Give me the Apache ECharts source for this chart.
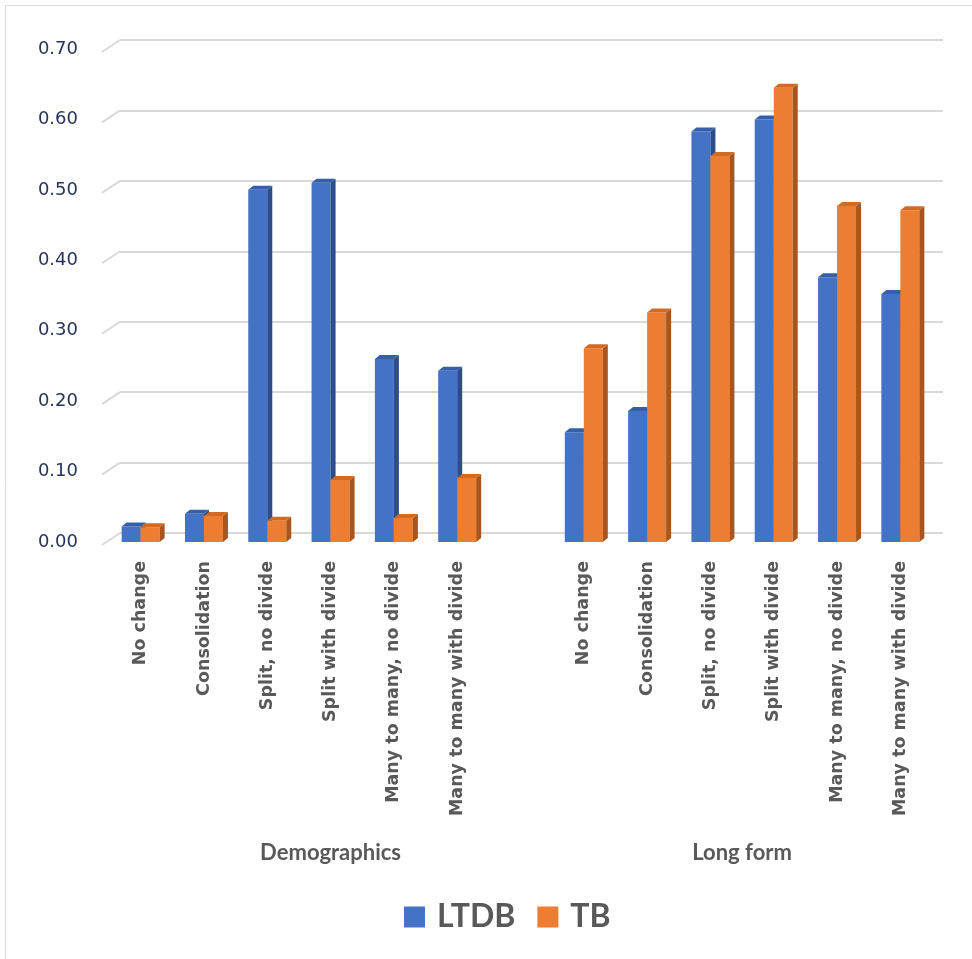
<!DOCTYPE html>
<html>
<head>
<meta charset="utf-8">
<script src="https://cdn.jsdelivr.net/npm/echarts@6/dist/echarts.min.js"></script>
<style>
  html, body { margin: 0; padding: 0; background: #fff; }
  #chart { width: 972px; height: 959px; }
</style>
</head>
<body>
<div id="chart"></div>
<script>
// categories per group (Excel multi-level axis, blank slot between groups)
const changeTypes = ['No change', 'Consolidation', 'Split, no divide', 'Split with divide',
  'Many to many, no divide', 'Many to many with divide']
const groups = ['Demographics', 'Long form']

const ltdbDemo = [0.022, 0.040, 0.500, 0.510, 0.260, 0.243]
const tbDemo = [0.021, 0.037, 0.030, 0.088, 0.034, 0.091]
const ltdbLong = [0.156, 0.186, 0.583, 0.600, 0.376, 0.352]
const tbLong = [0.275, 0.326, 0.548, 0.645, 0.477, 0.471]

const yTicks = [0, 0.1, 0.2, 0.3, 0.4, 0.5, 0.6, 0.7]

// 13 slots: 6 demographics, 1 blank, 6 long form
const categories = changeTypes.concat([''], changeTypes)
const toPoints = (a, b) => a.concat([null], b).map((v, i) => [i, v]).filter(p => p[1] !== null)

// fake 3D look like the Excel chart: grid 0 = front plane (bars, labels),
// grid 1 = back wall (gridlines), shifted right/up
const BW = 19 // bar width
const SX = 5 // depth of a bar
const SY = 4

function bar3d (side, colors) {
  return function (params, api) {
    const idx = api.value(0)
    const base = api.coord([idx, 0])
    const top = api.coord([idx, api.value(1)])
    const cx = base[0]
    const yb = base[1]
    const yt = top[1]
    const x0 = side < 0 ? cx - BW : cx
    const x1 = x0 + BW
    return {
      type: 'group',
      children: [
        { type: 'rect', shape: { x: x0, y: yt, width: BW, height: yb - yt }, style: { fill: colors[0] } },
        { type: 'polygon', shape: { points: [[x1, yt], [x1 + SX, yt - SY], [x1 + SX, yb - SY], [x1, yb]] }, style: { fill: colors[1] } },
        { type: 'polygon', shape: { points: [[x0, yt], [x1, yt], [x1 + SX, yt - SY], [x0 + SX, yt - SY]] }, style: { fill: colors[2] } }
      ]
    }
  }
}

const chart = echarts.init(document.getElementById('chart'))

const option = {
  animation: false,
  grid: [
    { left: 109, right: 40, top: 49, bottom: 417 },
    { left: 120, right: 29, top: 40, bottom: 426 }
  ],
  legend: {
    data: ['LTDB', 'TB'],
    left: 399,
    top: 896,
    icon: 'rect',
    itemWidth: 21,
    itemHeight: 21,
    itemGap: 22,
    textStyle: { fontFamily: 'Lato', fontWeight: 'bold', fontSize: 32, color: '#595959', padding: [0, 0, 0, 7] }
  },
  xAxis: [
    {
      type: 'category',
      gridIndex: 0,
      data: categories,
      axisLine: { show: false },
      axisTick: { show: false },
      axisLabel: {
        interval: 0,
        rotate: 90,
        margin: 19,
        fontFamily: 'DejaVu Sans',
        fontWeight: 'bold',
        fontSize: 17.5,
        color: '#595959'
      }
    },
    { type: 'category', gridIndex: 1, data: categories, show: false }
  ],
  yAxis: [
    {
      type: 'value',
      gridIndex: 0,
      min: 0,
      max: 0.7,
      interval: 0.1,
      axisLine: { show: false },
      axisTick: { show: false },
      splitLine: { show: false },
      axisLabel: {
        margin: 31,
        fontFamily: 'DejaVu Sans',
        fontSize: 18,
        color: '#27335a',
        formatter: v => v.toFixed(2)
      }
    },
    {
      type: 'value',
      gridIndex: 1,
      min: 0,
      max: 0.7,
      interval: 0.1,
      axisLine: { show: false },
      axisTick: { show: false },
      axisLabel: { show: false },
      splitLine: { lineStyle: { color: '#d9d9d9', width: 2 } }
    }
  ],
  series: [
    {
      name: 'LTDB',
      type: 'custom',
      xAxisIndex: 0,
      yAxisIndex: 0,
      itemStyle: { color: '#4472C4' },
      renderItem: bar3d(-1, ['#4472C4', '#2C4D88', '#3560A8']),
      encode: { x: 0, y: 1 },
      data: toPoints(ltdbDemo, ltdbLong)
    },
    {
      name: 'TB',
      type: 'custom',
      xAxisIndex: 0,
      yAxisIndex: 0,
      itemStyle: { color: '#ED7D31' },
      renderItem: bar3d(1, ['#ED7D31', '#A8561D', '#D06A25']),
      encode: { x: 0, y: 1 },
      data: toPoints(tbDemo, tbLong)
    }
  ]
}
chart.setOption(option)

// group labels, floor stubs and chart border, placed from the axes
const px = i => chart.convertToPixel({ xAxisIndex: 0 }, i)
const pyFront = v => chart.convertToPixel({ yAxisIndex: 0 }, v)
const pyBack = v => chart.convertToPixel({ yAxisIndex: 1 }, v)
const slot = px(1) - px(0)
const frontLeft = px(0) - slot / 2
const backLeft = chart.convertToPixel({ xAxisIndex: 1 }, 0) - slot / 2
const elements = []
yTicks.forEach(v => {
  elements.push({
    type: 'polyline',
    shape: { points: [[frontLeft - 7, pyFront(v) + 3], [backLeft, pyBack(v)]] },
    style: { stroke: '#d9d9d9', lineWidth: 2, fill: null }
  })
})
const groupCenters = [px(3), (px(9) + px(10)) / 2]
groups.forEach((g, i) => {
  elements.push({
    type: 'text',
    x: groupCenters[i],
    y: 853,
    style: {
      text: g,
      fontFamily: 'Lato',
      fontWeight: 'bold',
      fontSize: 22,
      fill: '#595959',
      align: 'center',
      verticalAlign: 'middle'
    }
  })
})
elements.push({
  type: 'rect',
  shape: { x: 5.5, y: 5.5, width: 1000, height: 1000 },
  style: { fill: null, stroke: '#d9d9d9', lineWidth: 1 },
  silent: true
})
chart.setOption({ graphic: elements })
</script>
</body>
</html>
